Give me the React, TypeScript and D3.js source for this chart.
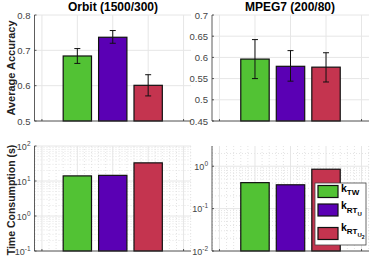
import * as React from 'react';
import * as d3 from 'd3';

const METHODS = ['kTW', 'kRTU', 'kRTU2'];
const COLORS = ['#52c234', '#5a00b4', '#c4344f'];

const ORBIT_ACC = [0.684, 0.737, 0.601];
const ORBIT_ERR_LO = [0.663, 0.72, 0.571];
const ORBIT_ERR_HI = [0.705, 0.756, 0.631];

const MPEG_ACC = [0.596, 0.579, 0.577];
const MPEG_ERR_LO = [0.55, 0.544, 0.542];
const MPEG_ERR_HI = [0.642, 0.616, 0.611];

const ORBIT_TIME = [14, 14.5, 33];
const MPEG_TIME = [0.41, 0.365, 0.85];

const ORBIT_ACC_TICKS = [0.5, 0.6, 0.7, 0.8];
const MPEG_ACC_TICKS = [0.45, 0.5, 0.55, 0.6, 0.65, 0.7];
const ORBIT_TIME_TICKS = [-1, 0, 1, 2];
const MPEG_TIME_TICKS = [-2, -1, 0];

const FONT = '"Liberation Sans", Arial, sans-serif';
const GRID = '#e6e6e6';
const AXIS = '#333';

interface PanelProps {
  left: number;
  right: number;
  top: number;
  bottom: number;
  values: number[];
  lo?: number[];
  hi?: number[];
  log?: boolean;
  domain: [number, number];
  ticks: number[];
}

const Panel: React.FC<PanelProps> = ({ left, right, top, bottom, values, lo, hi, log, domain, ticks }) => {
  const x = d3.scaleLinear().domain([-0.21, 4.21]).range([left, right]);
  const y = log
    ? d3.scaleLog().domain(domain).range([bottom, top])
    : d3.scaleLinear().domain(domain).range([bottom, top]);
  const bw = x(0.8) - x(0);
  const yBase = bottom;

  const minor: number[] = [];
  if (log) {
    const lo10 = Math.floor(Math.log10(domain[0]));
    const hi10 = Math.ceil(Math.log10(domain[1]));
    for (let e = lo10; e < hi10; e++) {
      for (let m = 2; m <= 9; m++) {
        const v = m * Math.pow(10, e);
        if (v > domain[0] && v < domain[1]) minor.push(v);
      }
    }
  }
  const xMinor = log ? d3.range(-0.2, 4.21, 0.2).filter((v) => Math.abs(v - Math.round(v)) > 0.01) : [];
  const majorVals = log ? ticks.map((e) => Math.pow(10, e)) : ticks;

  return (
    <g>
      {/* minor grid */}
      {minor.map((v, i) => (
        <line key={'m' + i} x1={left} x2={right} y1={y(v)} y2={y(v)} stroke="#e4e4e4" strokeDasharray="1,2" />
      ))}
      {xMinor.map((v, i) => (
        <line key={'xm' + i} x1={x(v)} x2={x(v)} y1={top} y2={bottom} stroke="#e4e4e4" strokeDasharray="1,2" />
      ))}
      {/* major grid */}
      {majorVals.map((v, i) => (
        <line key={'g' + i} x1={left} x2={right} y1={y(v)} y2={y(v)} stroke={GRID} />
      ))}
      {[0, 1, 2, 3, 4].map((v) => (
        <line key={'gx' + v} x1={x(v)} x2={x(v)} y1={top} y2={bottom} stroke={GRID} />
      ))}
      {/* bars */}
      {values.map((v, i) => (
        <rect
          key={'b' + i}
          x={x(i + 1) - bw / 2}
          y={y(v)}
          width={bw}
          height={yBase - y(v)}
          fill={COLORS[i]}
          stroke="#111"
          strokeWidth={1.2}
        />
      ))}
      {/* error bars */}
      {lo &&
        hi &&
        values.map((_, i) => (
          <g key={'e' + i} stroke="#111" strokeWidth={1}>
            <line x1={x(i + 1)} x2={x(i + 1)} y1={y(lo[i])} y2={y(hi[i])} />
            <line x1={x(i + 1) - 3} x2={x(i + 1) + 3} y1={y(lo[i])} y2={y(lo[i])} />
            <line x1={x(i + 1) - 3} x2={x(i + 1) + 3} y1={y(hi[i])} y2={y(hi[i])} />
          </g>
        ))}
      {/* axes */}
      <line x1={left} x2={right} y1={bottom} y2={bottom} stroke={AXIS} strokeWidth={0.8} />
      <line x1={left} x2={left} y1={top} y2={bottom} stroke={AXIS} strokeWidth={0.8} />
      {[0, 4].map((v) => (
        <line key={'xt' + v} x1={x(v)} x2={x(v)} y1={bottom} y2={bottom - 2} stroke={AXIS} strokeWidth={0.8} />
      ))}
      {majorVals.map((v, i) => (
        <line key={'yt' + i} x1={left} x2={left + 2} y1={y(v)} y2={y(v)} stroke={AXIS} strokeWidth={0.8} />
      ))}
      {/* tick labels */}
      {log
        ? ticks.map((e) => (
            <text
              key={'tl' + e}
              x={left - 4}
              y={y(Math.pow(10, e)) + 3.5}
              textAnchor="end"
              fontSize={9}
              fill="#444"
              fontFamily={FONT}
            >
              10
              <tspan dy={-4} fontSize={6.5}>
                {e}
              </tspan>
            </text>
          ))
        : ticks.map((v) => (
            <text
              key={'tl' + v}
              x={left - 4}
              y={y(v) + 3.5}
              textAnchor="end"
              fontSize={9.5}
              fill="#444"
              fontFamily={FONT}
            >
              {String(v)}
            </text>
          ))}
    </g>
  );
};

const App: React.FC = () => {
  const L1 = 34.5;
  const R1 = 191;
  const L2 = 212;
  const R2 = 369;
  const T1 = 15;
  const B1 = 121;
  const T2 = 146;
  const B2 = 251;

  const legendX = 315;
  const legendY = 183;
  const entryY = [191.5, 210, 233.5];

  return (
    <svg width={374} height={259} style={{ position: 'absolute', left: 0, top: 0, background: '#fff' }}>
      <rect width={374} height={259} fill="#fff" />
      <Panel left={L1} right={R1} top={T1} bottom={B1} values={ORBIT_ACC} lo={ORBIT_ERR_LO} hi={ORBIT_ERR_HI} domain={[0.5, 0.8]} ticks={ORBIT_ACC_TICKS} />
      <Panel left={L2} right={R2} top={T1} bottom={B1} values={MPEG_ACC} lo={MPEG_ERR_LO} hi={MPEG_ERR_HI} domain={[0.45, 0.7]} ticks={MPEG_ACC_TICKS} />
      <Panel left={L1} right={R1} top={T2} bottom={B2} values={ORBIT_TIME} log domain={[0.1, 100]} ticks={ORBIT_TIME_TICKS} />
      <Panel left={L2} right={R2} top={T2} bottom={B2} values={MPEG_TIME} log domain={[0.01, 3]} ticks={MPEG_TIME_TICKS} />

      {/* titles */}
      <text x={113} y={11} textAnchor="middle" fontSize={12} fontWeight="bold" fontFamily={FONT} fill="#000">
        Orbit (1500/300)
      </text>
      <text x={290} y={11} textAnchor="middle" fontSize={12} fontWeight="bold" fontFamily={FONT} fill="#000">
        MPEG7 (200/80)
      </text>
      <text transform="translate(15,68) rotate(-90)" textAnchor="middle" fontSize={11} fontWeight="bold" fontFamily={FONT} fill="#222">
        Average Accuracy
      </text>
      <text transform="translate(15,200) rotate(-90)" textAnchor="middle" fontSize={10.5} fontWeight="bold" fontFamily={FONT} fill="#222">
        Time Consumption (s)
      </text>

      {/* legend */}
      <rect x={legendX} y={legendY} width={51} height={62} fill="#fff" stroke="#444" strokeWidth={0.8} />
      {METHODS.map((m, i) => (
        <rect key={'ls' + m} x={318} y={entryY[i] - 6} width={20} height={12} fill={COLORS[i]} stroke="#111" strokeWidth={1.2} />
      ))}
      <text x={341} y={entryY[0]} fontSize={10.5} fontWeight="bold" fontFamily={FONT} fill="#000">
        k<tspan dy={3.5} fontSize={8}>TW</tspan>
      </text>
      <text x={341} y={entryY[1] - 1} fontSize={10.5} fontWeight="bold" fontFamily={FONT} fill="#000">
        k<tspan dy={3.5} fontSize={8}>RT</tspan>
        <tspan dy={3} fontSize={6}>U</tspan>
      </text>
      <text x={341} y={entryY[2] - 3} fontSize={10.5} fontWeight="bold" fontFamily={FONT} fill="#000">
        k<tspan dy={3.5} fontSize={8}>RT</tspan>
        <tspan dy={3} fontSize={6}>U</tspan>
        <tspan dy={2} fontSize={5}>2</tspan>
      </text>
    </svg>
  );
};

export default App;
